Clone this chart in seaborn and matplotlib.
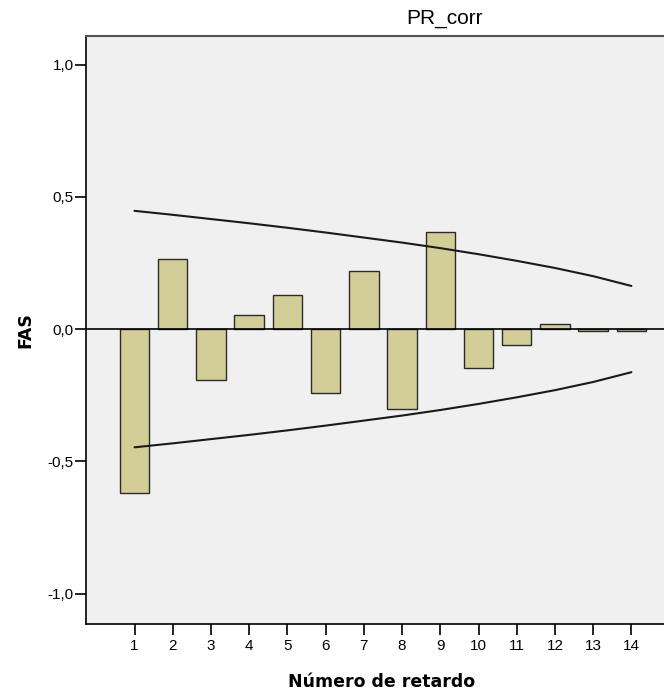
import matplotlib
matplotlib.use("Agg")
import matplotlib.pyplot as plt
import seaborn as sns
import pandas as pd

lags = [1, 2, 3, 4, 5, 6, 7, 8, 9, 10, 11, 12, 13, 14]
fas = [-0.620, 0.265, -0.193, 0.053, 0.129, -0.242, 0.219, -0.302, 0.367,
       -0.147, -0.060, 0.019, -0.007, -0.007]
upper = [0.447, 0.432, 0.416, 0.400, 0.383, 0.365, 0.346, 0.327, 0.306,
         0.283, 0.258, 0.231, 0.200, 0.163]
lower = [-u for u in upper]
y_ticks = [-1.0, -0.5, 0.0, 0.5, 1.0]
y_tick_labels = ["-1,0", "-0,5", "0,0", "0,5", "1,0"]

df = pd.DataFrame({"lag": lags, "fas": fas, "upper": upper, "lower": lower})

sns.set_theme(style="white")
plt.rcParams["font.family"] = ["Liberation Sans", "DejaVu Sans"]
plt.rcParams["text.color"] = "black"
plt.rcParams["axes.labelcolor"] = "black"
plt.rcParams["xtick.color"] = "black"
plt.rcParams["ytick.color"] = "black"

fig = plt.figure(figsize=(6.64, 6.94), dpi=100)
ax = fig.add_axes([86 / 664, 1 - 624 / 694, 1.02 - 86 / 664, (624 - 36) / 694])
ax.set_facecolor("#F0F0F0")

sns.barplot(data=df, x="lag", y="fas", native_scale=True, width=0.77,
            color="#D3CE97", saturation=1, edgecolor="#2b2b2b", linewidth=1,
            ax=ax)
sns.lineplot(data=df, x="lag", y="upper", color="#1a1a1a", linewidth=1.5, ax=ax)
sns.lineplot(data=df, x="lag", y="lower", color="#1a1a1a", linewidth=1.5, ax=ax)
ax.axhline(0, color="black", linewidth=1.2, zorder=3)

ax.set_xlim(-0.27, 15.2)
ax.set_ylim(-1.115, 1.108)
ax.set_xticks(lags)
ax.set_xticklabels([str(l) for l in lags], fontsize=11)
ax.set_yticks(y_ticks)
ax.set_yticklabels(y_tick_labels, fontsize=11)
ax.tick_params(axis="y", direction="out", length=8, width=1.2, color="black",
               left=True, pad=1)
ax.tick_params(axis="x", direction="out", length=8, width=1.2, color="black",
               bottom=True, pad=3)

for s in ["left", "bottom"]:
    ax.spines[s].set_color("black")
    ax.spines[s].set_linewidth(1.2)
ax.spines["top"].set_color("#555555")
ax.spines["top"].set_linewidth(1.5)
ax.spines["right"].set_visible(False)

ax.set_xlabel("Número de retardo", fontsize=12.5, fontweight="bold",
              family="DejaVu Sans", labelpad=14)
ax.set_ylabel("FAS", fontsize=12.5, fontweight="bold", family="DejaVu Sans",
              labelpad=9)
fig.text(444 / 664, 1 - 18 / 694, "PR_corr", fontsize=15, ha="center", va="center")

fig.savefig("out.png", dpi=100)
